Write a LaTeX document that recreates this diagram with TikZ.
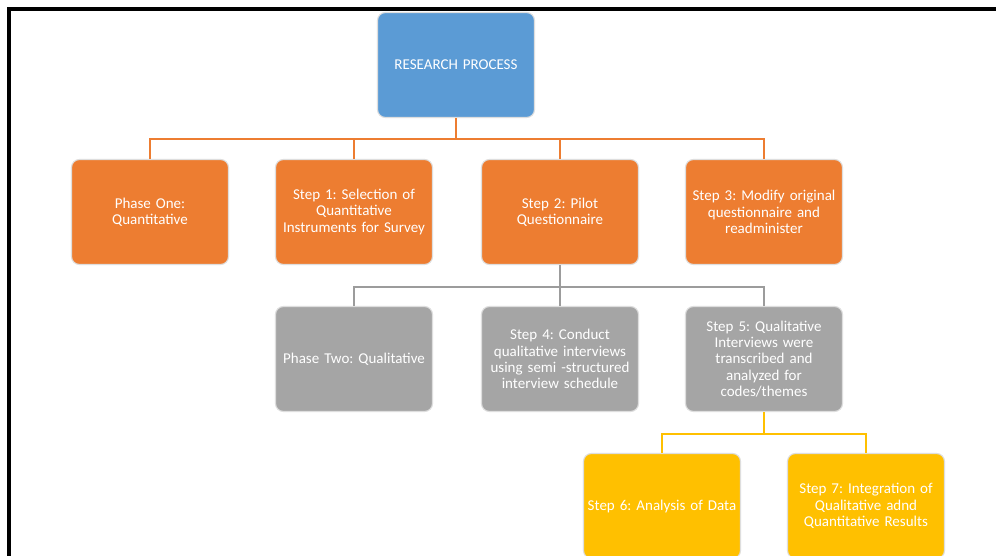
\documentclass[tikz,border=0pt]{standalone}
\usepackage{fontspec}
\setmainfont{Carlito}[WordSpace=0.75]
\frenchspacing
\definecolor{cblue}{HTML}{5B9BD5}
\definecolor{corange}{HTML}{ED7D31}
\definecolor{cgray}{HTML}{A5A5A5}
\definecolor{cyellow}{HTML}{FFC000}
\definecolor{cgrayline}{HTML}{9C9C9C}
\begin{document}
\begin{tikzpicture}[x=1pt,y=-1pt,
  box/.style={rounded corners=8pt, draw=black!13, line width=1.1pt, text=white,
    minimum width=157pt, minimum height=105pt, text width=156pt, align=center,
    font=\fontsize{15}{16.2}\selectfont, inner sep=0pt},
  bluebox/.style={box, fill=cblue},
  orangebox/.style={box, fill=corange},
  graybox/.style={box, fill=cgray},
  yellowbox/.style={box, fill=cyellow},
  link/.style={line width=2pt, line join=miter},
  olink/.style={link, draw=corange},
  glink/.style={link, draw=cgrayline, line width=2.4pt},
  ylink/.style={link, draw=cyellow}
]
\useasboundingbox (0,0) rectangle (996,556);
\fill[white] (0,0) rectangle (996,556);

% outer frame
\draw[line width=4pt, line join=miter] (9,560) -- (9,9) -- (1000,9);

% top node
\node[bluebox] (rp) at (456,65) {RESEARCH PROCESS};

% phase one
\node[orangebox] (p1) at (150,212) {Phase One:\\Quantitative};
\node[orangebox] (s1) at (354,212) {Step 1: Selection of\\Quantitative\\Instruments for Survey};
\node[orangebox] (s2) at (560,212) {Step 2: Pilot\\Questionnaire};
\node[orangebox] (s3) at (764,212) {Step 3: Modify original\\questionnaire and\\readminister};

% phase two
\node[graybox] (p2) at (354,359) {Phase Two: Qualitative};
\node[graybox] (s4) at (560,359) {Step 4: Conduct\\qualitative interviews\\using semi -structured\\interview schedule};
\node[graybox] (s5) at (764,359) {Step 5: Qualitative\\Interviews were\\transcribed and\\analyzed for\\codes/themes};

% results
\node[yellowbox] (s6) at (662,506) {Step 6: Analysis of Data};
\node[yellowbox] (s7) at (866,506) {Step 7: Integration of\\Qualitative adnd\\Quantitative Results};

% connectors
\foreach \c in {p1,s1,s2,s3}
  \draw[olink] (rp.south) -- ++(0,21) -| (\c.north);
\foreach \c in {p2,s4,s5}
  \draw[glink] (s2.south) -- ++(0,22) -| (\c.north);
\foreach \c in {s6,s7}
  \draw[ylink] (s5.south) -- ++(0,22) -| (\c.north);
\end{tikzpicture}
\end{document}
